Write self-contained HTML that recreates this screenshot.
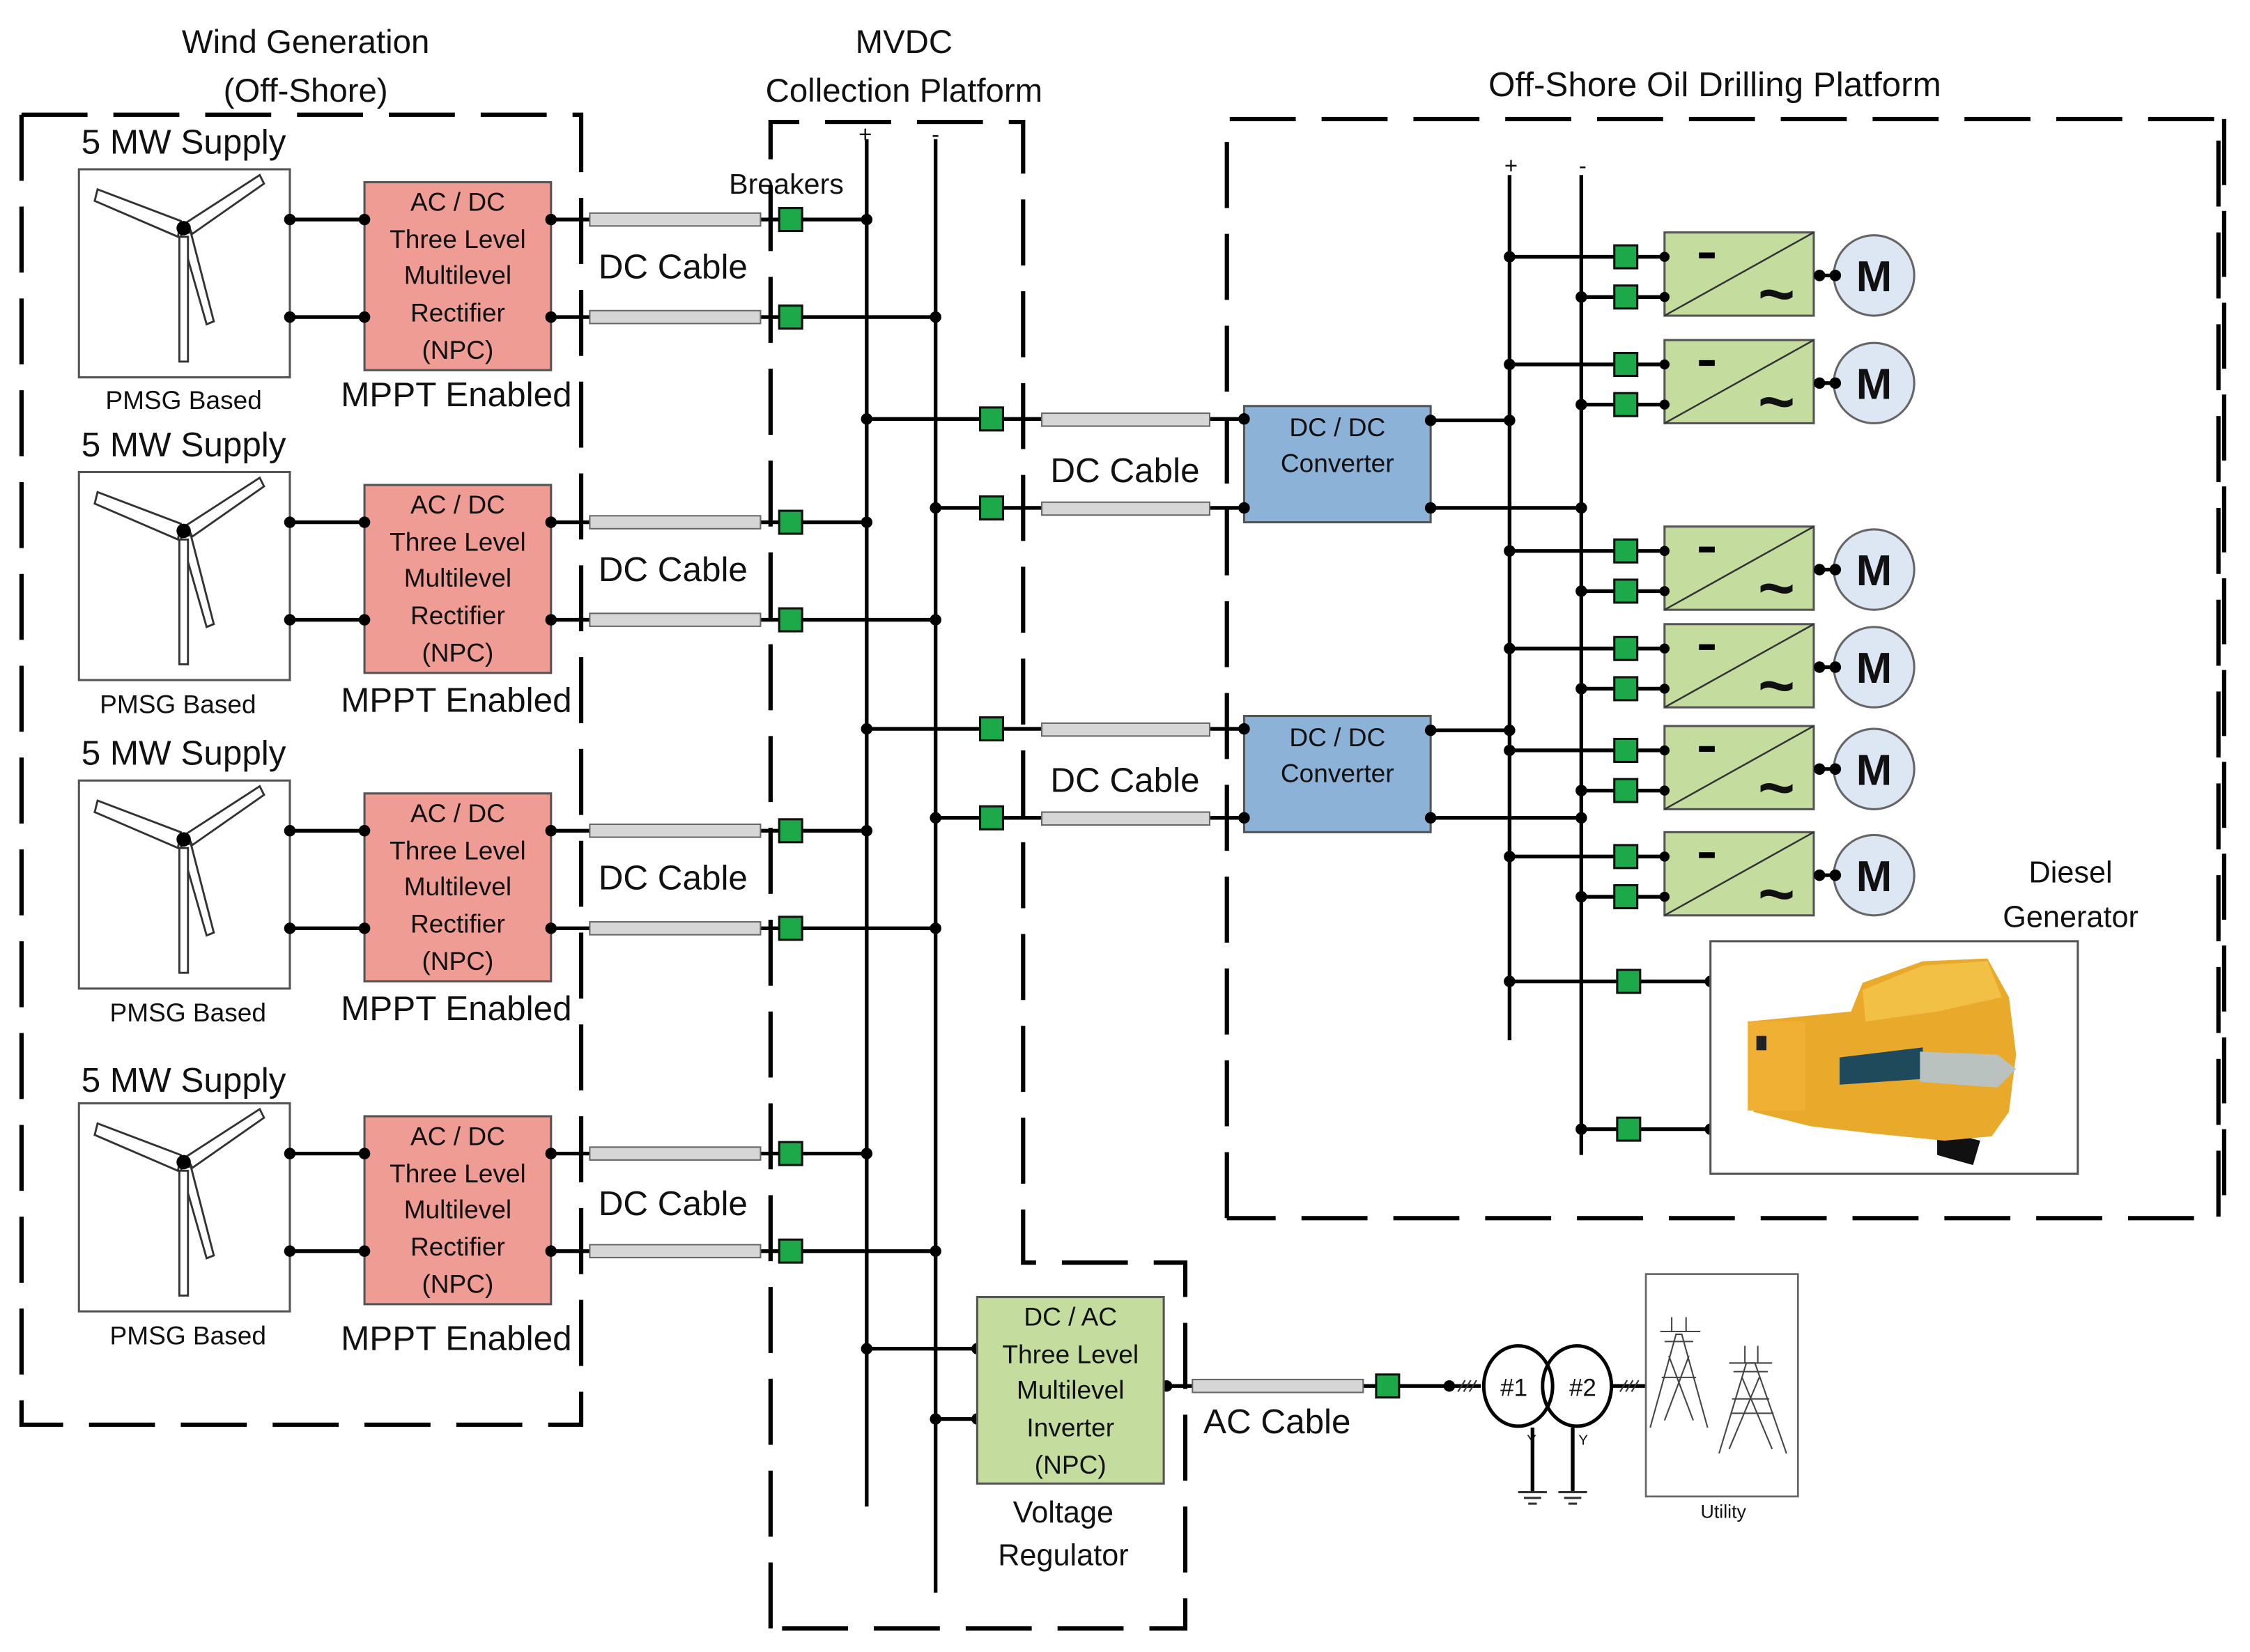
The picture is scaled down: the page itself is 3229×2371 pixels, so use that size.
<!DOCTYPE html>
<html><head><meta charset="utf-8"><style>
html,body{margin:0;padding:0;background:#fff;}
svg{display:block;}
text{font-family:"Liberation Sans",sans-serif;fill:#111;}
</style></head><body>
<svg width="3229" height="2371" viewBox="0 0 1568 1151.4" preserveAspectRatio="none" xmlns="http://www.w3.org/2000/svg">
<rect x="0" y="0" width="1568" height="1152" fill="#fff"/>

<!-- Titles -->
<g font-size="23" text-anchor="middle">
<text x="213" y="37">Wind Generation</text>
<text x="213" y="71">(Off-Shore)</text>
<text x="630" y="37">MVDC</text>
<text x="630" y="71">Collection Platform</text>
<text x="1195" y="67" font-size="24">Off-Shore Oil Drilling Platform</text>
</g>

<!-- Buses -->
<g stroke="#000" stroke-width="2.6">
<line x1="604" y1="97" x2="604" y2="1050"/>
<line x1="652" y1="97" x2="652" y2="1110"/>
<line x1="1052" y1="122" x2="1052" y2="725"/>
<line x1="1102" y1="122" x2="1102" y2="805"/>
</g>
<g font-size="16" text-anchor="middle">
<text x="603" y="99">+</text><text x="652" y="99">-</text>
<text x="1053" y="121">+</text><text x="1103" y="121">-</text>
</g>
<text x="548" y="135" font-size="20" text-anchor="middle">Breakers</text>

<!-- Wind rows -->
<g>
<text x="128" y="107" font-size="24" text-anchor="middle">5 MW Supply</text>
<rect x="55" y="118" width="147" height="145" fill="#fff" stroke="#555" stroke-width="1.5"/>
<g fill="#fff" stroke="#333" stroke-width="1.4">
<polygon points="126,154 68,132 66,140 124,165"/>
<polygon points="130,155 181,122 184,128 134,163"/>
<polygon points="126,163 133,162 149,224 144,226"/>
<polygon points="125,165 131,165 131,252 125,252"/>
</g>
<circle cx="128" cy="159" r="5" fill="#000"/>
<text x="128" y="285" font-size="18" text-anchor="middle">PMSG Based</text>
<g stroke="#000" stroke-width="2.6">
<line x1="202" y1="153" x2="254" y2="153"/><line x1="202" y1="221" x2="254" y2="221"/>
<line x1="384" y1="153" x2="411" y2="153"/><line x1="384" y1="221" x2="411" y2="221"/>
<line x1="530" y1="153" x2="604" y2="153"/><line x1="530" y1="221" x2="652" y2="221"/>
</g>
<rect x="254" y="127" width="130" height="131" fill="#ef9c95" stroke="#555" stroke-width="1.5"/>
<g font-size="18" text-anchor="middle">
<text x="319" y="147">AC / DC</text><text x="319" y="173">Three Level</text><text x="319" y="198">Multilevel</text><text x="319" y="224">Rectifier</text><text x="319" y="250">(NPC)</text>
</g>
<text x="318" y="283" font-size="24" text-anchor="middle">MPPT Enabled</text>
<rect x="411" y="148.5" width="119" height="9" fill="#d6d6d6" stroke="#666" stroke-width="1"/>
<rect x="411" y="216.5" width="119" height="9" fill="#d6d6d6" stroke="#666" stroke-width="1"/>
<text x="469" y="194" font-size="24" text-anchor="middle">DC Cable</text>
<rect x="543" y="145" width="16" height="16" fill="#1da84a" stroke="#111" stroke-width="1.5"/>
<rect x="543" y="213" width="16" height="16" fill="#1da84a" stroke="#111" stroke-width="1.5"/>
<g fill="#000"><circle cx="202" cy="153" r="4"/><circle cx="254" cy="153" r="4"/><circle cx="202" cy="221" r="4"/><circle cx="254" cy="221" r="4"/><circle cx="384" cy="153" r="4"/><circle cx="384" cy="221" r="4"/><circle cx="604" cy="153" r="4"/><circle cx="652" cy="221" r="4"/></g>
</g>

<g transform="translate(0,211)">
<text x="128" y="107" font-size="24" text-anchor="middle">5 MW Supply</text>
<rect x="55" y="118" width="147" height="145" fill="#fff" stroke="#555" stroke-width="1.5"/>
<g fill="#fff" stroke="#333" stroke-width="1.4">
<polygon points="126,154 68,132 66,140 124,165"/><polygon points="130,155 181,122 184,128 134,163"/><polygon points="126,163 133,162 149,224 144,226"/><polygon points="125,165 131,165 131,252 125,252"/>
</g>
<circle cx="128" cy="159" r="5" fill="#000"/>
<text x="124" y="286" font-size="18" text-anchor="middle">PMSG Based</text>
<g stroke="#000" stroke-width="2.6">
<line x1="202" y1="153" x2="254" y2="153"/><line x1="202" y1="221" x2="254" y2="221"/><line x1="384" y1="153" x2="411" y2="153"/><line x1="384" y1="221" x2="411" y2="221"/><line x1="530" y1="153" x2="604" y2="153"/><line x1="530" y1="221" x2="652" y2="221"/>
</g>
<rect x="254" y="127" width="130" height="131" fill="#ef9c95" stroke="#555" stroke-width="1.5"/>
<g font-size="18" text-anchor="middle">
<text x="319" y="147">AC / DC</text><text x="319" y="173">Three Level</text><text x="319" y="198">Multilevel</text><text x="319" y="224">Rectifier</text><text x="319" y="250">(NPC)</text>
</g>
<text x="318" y="285" font-size="24" text-anchor="middle">MPPT Enabled</text>
<rect x="411" y="148.5" width="119" height="9" fill="#d6d6d6" stroke="#666"/><rect x="411" y="216.5" width="119" height="9" fill="#d6d6d6" stroke="#666"/>
<text x="469" y="194" font-size="24" text-anchor="middle">DC Cable</text>
<rect x="543" y="145" width="16" height="16" fill="#1da84a" stroke="#111" stroke-width="1.5"/><rect x="543" y="213" width="16" height="16" fill="#1da84a" stroke="#111" stroke-width="1.5"/>
<g fill="#000"><circle cx="202" cy="153" r="4"/><circle cx="254" cy="153" r="4"/><circle cx="202" cy="221" r="4"/><circle cx="254" cy="221" r="4"/><circle cx="384" cy="153" r="4"/><circle cx="384" cy="221" r="4"/><circle cx="604" cy="153" r="4"/><circle cx="652" cy="221" r="4"/></g>
</g>

<g transform="translate(0,426)">
<text x="128" y="107" font-size="24" text-anchor="middle">5 MW Supply</text>
<rect x="55" y="118" width="147" height="145" fill="#fff" stroke="#555" stroke-width="1.5"/>
<g fill="#fff" stroke="#333" stroke-width="1.4">
<polygon points="126,154 68,132 66,140 124,165"/><polygon points="130,155 181,122 184,128 134,163"/><polygon points="126,163 133,162 149,224 144,226"/><polygon points="125,165 131,165 131,252 125,252"/>
</g>
<circle cx="128" cy="159" r="5" fill="#000"/>
<text x="131" y="286" font-size="18" text-anchor="middle">PMSG Based</text>
<g stroke="#000" stroke-width="2.6">
<line x1="202" y1="153" x2="254" y2="153"/><line x1="202" y1="221" x2="254" y2="221"/><line x1="384" y1="153" x2="411" y2="153"/><line x1="384" y1="221" x2="411" y2="221"/><line x1="530" y1="153" x2="604" y2="153"/><line x1="530" y1="221" x2="652" y2="221"/>
</g>
<rect x="254" y="127" width="130" height="131" fill="#ef9c95" stroke="#555" stroke-width="1.5"/>
<g font-size="18" text-anchor="middle">
<text x="319" y="147">AC / DC</text><text x="319" y="173">Three Level</text><text x="319" y="198">Multilevel</text><text x="319" y="224">Rectifier</text><text x="319" y="250">(NPC)</text>
</g>
<text x="318" y="285" font-size="24" text-anchor="middle">MPPT Enabled</text>
<rect x="411" y="148.5" width="119" height="9" fill="#d6d6d6" stroke="#666"/><rect x="411" y="216.5" width="119" height="9" fill="#d6d6d6" stroke="#666"/>
<text x="469" y="194" font-size="24" text-anchor="middle">DC Cable</text>
<rect x="543" y="145" width="16" height="16" fill="#1da84a" stroke="#111" stroke-width="1.5"/><rect x="543" y="213" width="16" height="16" fill="#1da84a" stroke="#111" stroke-width="1.5"/>
<g fill="#000"><circle cx="202" cy="153" r="4"/><circle cx="254" cy="153" r="4"/><circle cx="202" cy="221" r="4"/><circle cx="254" cy="221" r="4"/><circle cx="384" cy="153" r="4"/><circle cx="384" cy="221" r="4"/><circle cx="604" cy="153" r="4"/><circle cx="652" cy="221" r="4"/></g>
</g>

<g transform="translate(0,651)">
<text x="128" y="110" font-size="24" text-anchor="middle">5 MW Supply</text>
<rect x="55" y="118" width="147" height="145" fill="#fff" stroke="#555" stroke-width="1.5"/>
<g fill="#fff" stroke="#333" stroke-width="1.4">
<polygon points="126,154 68,132 66,140 124,165"/><polygon points="130,155 181,122 184,128 134,163"/><polygon points="126,163 133,162 149,224 144,226"/><polygon points="125,165 131,165 131,252 125,252"/>
</g>
<circle cx="128" cy="159" r="5" fill="#000"/>
<text x="131" y="286" font-size="18" text-anchor="middle">PMSG Based</text>
<g stroke="#000" stroke-width="2.6">
<line x1="202" y1="153" x2="254" y2="153"/><line x1="202" y1="221" x2="254" y2="221"/><line x1="384" y1="153" x2="411" y2="153"/><line x1="384" y1="221" x2="411" y2="221"/><line x1="530" y1="153" x2="604" y2="153"/><line x1="530" y1="221" x2="652" y2="221"/>
</g>
<rect x="254" y="127" width="130" height="131" fill="#ef9c95" stroke="#555" stroke-width="1.5"/>
<g font-size="18" text-anchor="middle">
<text x="319" y="147">AC / DC</text><text x="319" y="173">Three Level</text><text x="319" y="198">Multilevel</text><text x="319" y="224">Rectifier</text><text x="319" y="250">(NPC)</text>
</g>
<text x="318" y="290" font-size="24" text-anchor="middle">MPPT Enabled</text>
<rect x="411" y="148.5" width="119" height="9" fill="#d6d6d6" stroke="#666"/><rect x="411" y="216.5" width="119" height="9" fill="#d6d6d6" stroke="#666"/>
<text x="469" y="196" font-size="24" text-anchor="middle">DC Cable</text>
<rect x="543" y="145" width="16" height="16" fill="#1da84a" stroke="#111" stroke-width="1.5"/><rect x="543" y="213" width="16" height="16" fill="#1da84a" stroke="#111" stroke-width="1.5"/>
<g fill="#000"><circle cx="202" cy="153" r="4"/><circle cx="254" cy="153" r="4"/><circle cx="202" cy="221" r="4"/><circle cx="254" cy="221" r="4"/><circle cx="384" cy="153" r="4"/><circle cx="384" cy="221" r="4"/><circle cx="604" cy="153" r="4"/><circle cx="652" cy="221" r="4"/></g>
</g>

<!-- DC/DC paths -->
<g>
<g stroke="#000" stroke-width="2.6">
<line x1="604" y1="292" x2="726" y2="292"/><line x1="652" y1="354" x2="726" y2="354"/>
<line x1="843" y1="292" x2="867" y2="292"/><line x1="843" y1="354" x2="867" y2="354"/>
<line x1="997" y1="293" x2="1052" y2="293"/><line x1="997" y1="354" x2="1102" y2="354"/>
</g>
<rect x="726" y="288" width="117" height="9" fill="#d6d6d6" stroke="#666"/><rect x="726" y="350" width="117" height="9" fill="#d6d6d6" stroke="#666"/>
<rect x="683" y="284" width="16" height="16" fill="#1da84a" stroke="#111" stroke-width="1.5"/><rect x="683" y="346" width="16" height="16" fill="#1da84a" stroke="#111" stroke-width="1.5"/>
<rect x="867" y="283" width="130" height="81" fill="#8cb2d8" stroke="#555" stroke-width="1.5"/>
<text x="932" y="304" font-size="18" text-anchor="middle">DC / DC</text><text x="932" y="329" font-size="18" text-anchor="middle">Converter</text>
<text x="784" y="336" font-size="24" text-anchor="middle">DC Cable</text>
<g fill="#000"><circle cx="604" cy="292" r="4"/><circle cx="652" cy="354" r="4"/><circle cx="867" cy="292" r="4"/><circle cx="867" cy="354" r="4"/><circle cx="997" cy="293" r="4"/><circle cx="997" cy="354" r="4"/><circle cx="1052" cy="293" r="4"/><circle cx="1102" cy="354" r="4"/></g>
</g>
<g transform="translate(0,216)">
<g stroke="#000" stroke-width="2.6">
<line x1="604" y1="292" x2="726" y2="292"/><line x1="652" y1="354" x2="726" y2="354"/>
<line x1="843" y1="292" x2="867" y2="292"/><line x1="843" y1="354" x2="867" y2="354"/>
<line x1="997" y1="293" x2="1052" y2="293"/><line x1="997" y1="354" x2="1102" y2="354"/>
</g>
<rect x="726" y="288" width="117" height="9" fill="#d6d6d6" stroke="#666"/><rect x="726" y="350" width="117" height="9" fill="#d6d6d6" stroke="#666"/>
<rect x="683" y="284" width="16" height="16" fill="#1da84a" stroke="#111" stroke-width="1.5"/><rect x="683" y="346" width="16" height="16" fill="#1da84a" stroke="#111" stroke-width="1.5"/>
<rect x="867" y="283" width="130" height="81" fill="#8cb2d8" stroke="#555" stroke-width="1.5"/>
<text x="932" y="304" font-size="18" text-anchor="middle">DC / DC</text><text x="932" y="329" font-size="18" text-anchor="middle">Converter</text>
<text x="784" y="336" font-size="24" text-anchor="middle">DC Cable</text>
<g fill="#000"><circle cx="604" cy="292" r="4"/><circle cx="652" cy="354" r="4"/><circle cx="867" cy="292" r="4"/><circle cx="867" cy="354" r="4"/><circle cx="997" cy="293" r="4"/><circle cx="997" cy="354" r="4"/><circle cx="1052" cy="293" r="4"/><circle cx="1102" cy="354" r="4"/></g>
</g>

<!-- Motor drives -->
<g transform="translate(0,162)">
<g stroke="#000" stroke-width="2.6"><line x1="1052" y1="17" x2="1160" y2="17"/><line x1="1102" y1="45" x2="1160" y2="45"/><line x1="1264" y1="30" x2="1280" y2="30"/></g>
<rect x="1125" y="9" width="16" height="16" fill="#1da84a" stroke="#111" stroke-width="1.5"/><rect x="1125" y="37" width="16" height="16" fill="#1da84a" stroke="#111" stroke-width="1.5"/>
<rect x="1160" y="0" width="104" height="58" fill="#c4dd9f" stroke="#555" stroke-width="1.5"/>
<line x1="1160" y1="58" x2="1264" y2="0" stroke="#333" stroke-width="1.2"/>
<rect x="1184" y="14" width="11" height="4" fill="#000"/>
<text x="1238" y="58" font-size="44" font-weight="bold" text-anchor="middle">~</text>
<circle cx="1306" cy="30" r="28" fill="#dde7f4" stroke="#666" stroke-width="1.5"/>
<text x="1306" y="41" font-size="30" font-weight="bold" text-anchor="middle">M</text>
<g fill="#000"><circle cx="1052" cy="17" r="4"/><circle cx="1102" cy="45" r="4"/><circle cx="1160" cy="17" r="3.5"/><circle cx="1160" cy="45" r="3.5"/><circle cx="1268" cy="30" r="4"/><circle cx="1279" cy="30" r="4"/></g>
</g>
<g transform="translate(0,237)">
<g stroke="#000" stroke-width="2.6"><line x1="1052" y1="17" x2="1160" y2="17"/><line x1="1102" y1="45" x2="1160" y2="45"/><line x1="1264" y1="30" x2="1280" y2="30"/></g>
<rect x="1125" y="9" width="16" height="16" fill="#1da84a" stroke="#111" stroke-width="1.5"/><rect x="1125" y="37" width="16" height="16" fill="#1da84a" stroke="#111" stroke-width="1.5"/>
<rect x="1160" y="0" width="104" height="58" fill="#c4dd9f" stroke="#555" stroke-width="1.5"/>
<line x1="1160" y1="58" x2="1264" y2="0" stroke="#333" stroke-width="1.2"/>
<rect x="1184" y="14" width="11" height="4" fill="#000"/>
<text x="1238" y="58" font-size="44" font-weight="bold" text-anchor="middle">~</text>
<circle cx="1306" cy="30" r="28" fill="#dde7f4" stroke="#666" stroke-width="1.5"/>
<text x="1306" y="41" font-size="30" font-weight="bold" text-anchor="middle">M</text>
<g fill="#000"><circle cx="1052" cy="17" r="4"/><circle cx="1102" cy="45" r="4"/><circle cx="1160" cy="17" r="3.5"/><circle cx="1160" cy="45" r="3.5"/><circle cx="1268" cy="30" r="4"/><circle cx="1279" cy="30" r="4"/></g>
</g>
<g transform="translate(0,367)">
<g stroke="#000" stroke-width="2.6"><line x1="1052" y1="17" x2="1160" y2="17"/><line x1="1102" y1="45" x2="1160" y2="45"/><line x1="1264" y1="30" x2="1280" y2="30"/></g>
<rect x="1125" y="9" width="16" height="16" fill="#1da84a" stroke="#111" stroke-width="1.5"/><rect x="1125" y="37" width="16" height="16" fill="#1da84a" stroke="#111" stroke-width="1.5"/>
<rect x="1160" y="0" width="104" height="58" fill="#c4dd9f" stroke="#555" stroke-width="1.5"/>
<line x1="1160" y1="58" x2="1264" y2="0" stroke="#333" stroke-width="1.2"/>
<rect x="1184" y="14" width="11" height="4" fill="#000"/>
<text x="1238" y="58" font-size="44" font-weight="bold" text-anchor="middle">~</text>
<circle cx="1306" cy="30" r="28" fill="#dde7f4" stroke="#666" stroke-width="1.5"/>
<text x="1306" y="41" font-size="30" font-weight="bold" text-anchor="middle">M</text>
<g fill="#000"><circle cx="1052" cy="17" r="4"/><circle cx="1102" cy="45" r="4"/><circle cx="1160" cy="17" r="3.5"/><circle cx="1160" cy="45" r="3.5"/><circle cx="1268" cy="30" r="4"/><circle cx="1279" cy="30" r="4"/></g>
</g>
<g transform="translate(0,435)">
<g stroke="#000" stroke-width="2.6"><line x1="1052" y1="17" x2="1160" y2="17"/><line x1="1102" y1="45" x2="1160" y2="45"/><line x1="1264" y1="30" x2="1280" y2="30"/></g>
<rect x="1125" y="9" width="16" height="16" fill="#1da84a" stroke="#111" stroke-width="1.5"/><rect x="1125" y="37" width="16" height="16" fill="#1da84a" stroke="#111" stroke-width="1.5"/>
<rect x="1160" y="0" width="104" height="58" fill="#c4dd9f" stroke="#555" stroke-width="1.5"/>
<line x1="1160" y1="58" x2="1264" y2="0" stroke="#333" stroke-width="1.2"/>
<rect x="1184" y="14" width="11" height="4" fill="#000"/>
<text x="1238" y="58" font-size="44" font-weight="bold" text-anchor="middle">~</text>
<circle cx="1306" cy="30" r="28" fill="#dde7f4" stroke="#666" stroke-width="1.5"/>
<text x="1306" y="41" font-size="30" font-weight="bold" text-anchor="middle">M</text>
<g fill="#000"><circle cx="1052" cy="17" r="4"/><circle cx="1102" cy="45" r="4"/><circle cx="1160" cy="17" r="3.5"/><circle cx="1160" cy="45" r="3.5"/><circle cx="1268" cy="30" r="4"/><circle cx="1279" cy="30" r="4"/></g>
</g>
<g transform="translate(0,506)">
<g stroke="#000" stroke-width="2.6"><line x1="1052" y1="17" x2="1160" y2="17"/><line x1="1102" y1="45" x2="1160" y2="45"/><line x1="1264" y1="30" x2="1280" y2="30"/></g>
<rect x="1125" y="9" width="16" height="16" fill="#1da84a" stroke="#111" stroke-width="1.5"/><rect x="1125" y="37" width="16" height="16" fill="#1da84a" stroke="#111" stroke-width="1.5"/>
<rect x="1160" y="0" width="104" height="58" fill="#c4dd9f" stroke="#555" stroke-width="1.5"/>
<line x1="1160" y1="58" x2="1264" y2="0" stroke="#333" stroke-width="1.2"/>
<rect x="1184" y="14" width="11" height="4" fill="#000"/>
<text x="1238" y="58" font-size="44" font-weight="bold" text-anchor="middle">~</text>
<circle cx="1306" cy="30" r="28" fill="#dde7f4" stroke="#666" stroke-width="1.5"/>
<text x="1306" y="41" font-size="30" font-weight="bold" text-anchor="middle">M</text>
<g fill="#000"><circle cx="1052" cy="17" r="4"/><circle cx="1102" cy="45" r="4"/><circle cx="1160" cy="17" r="3.5"/><circle cx="1160" cy="45" r="3.5"/><circle cx="1268" cy="30" r="4"/><circle cx="1279" cy="30" r="4"/></g>
</g>
<g transform="translate(0,580)">
<g stroke="#000" stroke-width="2.6"><line x1="1052" y1="17" x2="1160" y2="17"/><line x1="1102" y1="45" x2="1160" y2="45"/><line x1="1264" y1="30" x2="1280" y2="30"/></g>
<rect x="1125" y="9" width="16" height="16" fill="#1da84a" stroke="#111" stroke-width="1.5"/><rect x="1125" y="37" width="16" height="16" fill="#1da84a" stroke="#111" stroke-width="1.5"/>
<rect x="1160" y="0" width="104" height="58" fill="#c4dd9f" stroke="#555" stroke-width="1.5"/>
<line x1="1160" y1="58" x2="1264" y2="0" stroke="#333" stroke-width="1.2"/>
<rect x="1184" y="14" width="11" height="4" fill="#000"/>
<text x="1238" y="58" font-size="44" font-weight="bold" text-anchor="middle">~</text>
<circle cx="1306" cy="30" r="28" fill="#dde7f4" stroke="#666" stroke-width="1.5"/>
<text x="1306" y="41" font-size="30" font-weight="bold" text-anchor="middle">M</text>
<g fill="#000"><circle cx="1052" cy="17" r="4"/><circle cx="1102" cy="45" r="4"/><circle cx="1160" cy="17" r="3.5"/><circle cx="1160" cy="45" r="3.5"/><circle cx="1268" cy="30" r="4"/><circle cx="1279" cy="30" r="4"/></g>
</g>

<!-- Diesel generator -->
<g stroke="#000" stroke-width="2.6"><line x1="1052" y1="684" x2="1192" y2="684"/><line x1="1102" y1="787" x2="1192" y2="787"/></g>
<rect x="1127" y="676" width="16" height="16" fill="#1da84a" stroke="#111" stroke-width="1.5"/>
<rect x="1127" y="779" width="16" height="16" fill="#1da84a" stroke="#111" stroke-width="1.5"/>
<g fill="#000"><circle cx="1052" cy="684" r="4"/><circle cx="1102" cy="787" r="4"/><circle cx="1192" cy="684" r="4"/><circle cx="1192" cy="787" r="4"/></g>
<rect x="1192" y="656" width="256" height="162" fill="#fff" stroke="#555" stroke-width="1.5"/>
<text x="1443" y="615" font-size="21" text-anchor="middle">Diesel</text>
<text x="1443" y="646" font-size="21" text-anchor="middle">Generator</text>
<g>
<polygon points="1245,768 1350,790 1350,805 1375,812 1380,795 1300,775 1245,760" fill="#111"/>
<polygon points="1218,712 1290,705 1298,685 1340,670 1385,668 1400,695 1405,735 1400,775 1388,792 1355,795 1305,790 1262,785 1222,775" fill="#e9aa2c"/>
<polygon points="1298,690 1340,673 1385,670 1395,695 1350,705 1300,712" fill="#f3c046"/>
<rect x="1218" y="712" width="40" height="62" fill="#f0b033"/>
<polygon points="1282,737 1340,730 1340,752 1282,756" fill="#1f4a5c"/>
<polygon points="1338,733 1392,735 1405,745 1392,758 1338,754" fill="#b9c2bf"/>
<rect x="1224" y="722" width="7" height="10" fill="#222"/>
</g>

<!-- Inverter -->
<g stroke="#000" stroke-width="2.6">
<line x1="604" y1="940" x2="681" y2="940"/><line x1="652" y1="989" x2="681" y2="989"/>
<line x1="811" y1="966" x2="831" y2="966"/><line x1="950" y1="966" x2="1032" y2="966"/>
<line x1="1124" y1="966" x2="1150" y2="966"/>
<line x1="1068" y1="995" x2="1068" y2="1040"/><line x1="1096" y1="995" x2="1096" y2="1040"/>
</g>
<g fill="#000"><circle cx="604" cy="940" r="4"/><circle cx="681" cy="940" r="4"/><circle cx="652" cy="989" r="4"/><circle cx="681" cy="989" r="4"/><circle cx="813" cy="966" r="4"/><circle cx="1010" cy="966" r="4"/></g>
<rect x="681" y="904" width="130" height="130" fill="#c4dd9f" stroke="#555" stroke-width="1.5"/>
<g font-size="18" text-anchor="middle">
<text x="746" y="924">DC / AC</text><text x="746" y="950">Three Level</text><text x="746" y="975">Multilevel</text><text x="746" y="1001">Inverter</text><text x="746" y="1027">(NPC)</text>
</g>
<text x="741" y="1061" font-size="21" text-anchor="middle">Voltage</text>
<text x="741" y="1091" font-size="21" text-anchor="middle">Regulator</text>
<rect x="831" y="961.5" width="119" height="9" fill="#d6d6d6" stroke="#666"/>
<rect x="959" y="958" width="16" height="16" fill="#1da84a" stroke="#111" stroke-width="1.5"/>
<text x="890" y="999" font-size="24" text-anchor="middle">AC Cable</text>
<g stroke="#333" stroke-width="1"><line x1="1016" y1="970" x2="1021" y2="962"/><line x1="1020" y1="970" x2="1025" y2="962"/><line x1="1024" y1="970" x2="1029" y2="962"/><line x1="1129" y1="970" x2="1134" y2="962"/><line x1="1133" y1="970" x2="1138" y2="962"/><line x1="1137" y1="970" x2="1142" y2="962"/></g>
<ellipse cx="1058" cy="966" rx="24" ry="28" fill="none" stroke="#000" stroke-width="2.4"/>
<ellipse cx="1099" cy="966" rx="24" ry="28" fill="none" stroke="#000" stroke-width="2.4"/>
<text x="1055" y="973" font-size="17" text-anchor="middle">#1</text>
<text x="1103" y="973" font-size="17" text-anchor="middle">#2</text>
<text x="1064" y="1007" font-size="10">Y</text><text x="1100" y="1007" font-size="10">Y</text>
<g stroke="#333" stroke-width="1.5">
<line x1="1058" y1="1040" x2="1078" y2="1040"/><line x1="1062" y1="1044" x2="1074" y2="1044"/><line x1="1065" y1="1048" x2="1071" y2="1048"/>
<line x1="1086" y1="1040" x2="1106" y2="1040"/><line x1="1090" y1="1044" x2="1102" y2="1044"/><line x1="1093" y1="1048" x2="1099" y2="1048"/>
</g>
<rect x="1147" y="888" width="106" height="155" fill="#fff" stroke="#666" stroke-width="1.3"/>
<text x="1201" y="1058" font-size="13" text-anchor="middle" fill="#444">Utility</text>
<g stroke="#444" stroke-width="1" fill="none">
<polyline points="1150,995 1168,930 1172,930 1190,995"/><line x1="1158" y1="960" x2="1182" y2="960"/><line x1="1157" y1="928" x2="1185" y2="928"/><line x1="1160" y1="935" x2="1180" y2="935"/>
<line x1="1165" y1="918" x2="1165" y2="928"/><line x1="1175" y1="918" x2="1175" y2="928"/>
<line x1="1163" y1="945" x2="1180" y2="990"/><line x1="1177" y1="945" x2="1160" y2="990"/>
<polyline points="1198,1013 1217,950 1223,950 1245,1013"/><line x1="1206" y1="985" x2="1236" y2="985"/><line x1="1207" y1="975" x2="1233" y2="975"/><line x1="1205" y1="950" x2="1235" y2="950"/><line x1="1208" y1="956" x2="1232" y2="956"/>
<line x1="1216" y1="938" x2="1216" y2="950"/><line x1="1225" y1="938" x2="1225" y2="950"/>
<line x1="1214" y1="960" x2="1235" y2="1010"/><line x1="1226" y1="960" x2="1205" y2="1010"/>
</g>

<!-- Dashed boundaries -->
<g fill="none" stroke="#000" stroke-width="3" stroke-dasharray="46,18">
<polyline points="15,80 405,80 405,993 15,993 15,80"/>
<polyline points="537,1135 537,85 713,85 713,880 826,880 826,1135 537,1135"/>
<polyline points="855,849 855,83 1546,83 1546,849 855,849"/>
<line x1="1550" y1="83" x2="1550" y2="849"/>
</g>
</svg>
</body></html>
